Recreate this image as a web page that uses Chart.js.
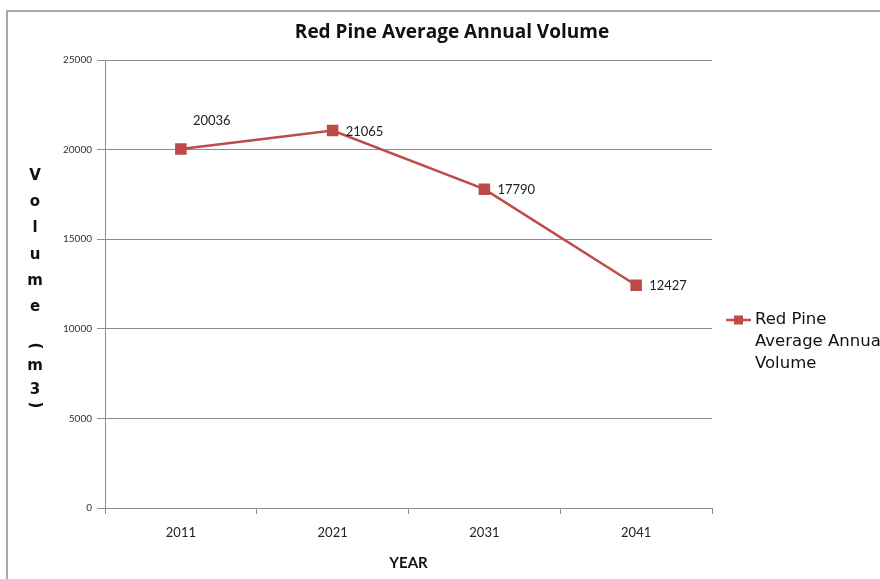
<!DOCTYPE html>
<html>
<head>
<meta charset="utf-8">
<script src="https://cdn.jsdelivr.net/npm/chart.js@4"></script>
<style>
  html, body { margin: 0; padding: 0; background: #ffffff; }
  #wrap { width: 880px; height: 579px; position: relative; }
</style>
</head>
<body>
<div id="wrap"><canvas id="chart"></canvas></div>
<script>
// Chart data
const years = ['2011', '2021', '2031', '2041'];
const volumes = [20036, 21065, 17790, 12427];
const yTicks = [0, 5000, 10000, 15000, 20000, 25000];
const seriesName = 'Red Pine Average Annual Volume';
const legendLines = ['Red Pine', 'Average Annual', 'Volume'];
const yTitleChars = ['V', 'o', 'l', 'u', 'm', 'e', '(', 'm', '3', ')'];

const lineRed = '#be4b48';
const axisGrey = '#8c8c8c';
const baseFont = 'Lato, "Open Sans", sans-serif';

// Frame, title, stacked y title, point labels and the wrapped legend
const decorPlugin = {
    id: 'decor',
    beforeDraw(chart) {
        const ctx = chart.ctx;
        ctx.save();
        ctx.strokeStyle = '#aaaaaa';
        ctx.lineWidth = 2;
        ctx.strokeRect(7, 11, 900, 600);
        ctx.restore();
    },
    afterDraw(chart) {
        const ctx = chart.ctx;
        const meta = chart.getDatasetMeta(0);
        ctx.save();

        // Chart title, centred on the frame
        ctx.fillStyle = '#111';
        ctx.font = 'bold 19px "Open Sans", sans-serif';
        ctx.textAlign = 'center';
        ctx.textBaseline = 'middle';
        ctx.fillText(seriesName, 452, 33);

        // Vertical stacked y axis title (parentheses turned sideways)
        ctx.font = 'bold 15px "DejaVu Sans", sans-serif';
        const charY = [176, 202, 228, 255, 281, 307, 346, 366, 390, 405];
        yTitleChars.forEach((ch, i) => {
            if (ch === '(' || ch === ')') {
                ctx.save();
                ctx.translate(35, charY[i]);
                ctx.rotate(Math.PI / 2);
                ctx.fillText(ch, 0, 0);
                ctx.restore();
            } else {
                ctx.fillText(ch, 35, charY[i]);
            }
        });

        // Value labels next to the points
        ctx.font = '13px ' + baseFont;
        ctx.fillStyle = '#222';
        ctx.textAlign = 'left';
        meta.data.forEach((pt, i) => {
            const txt = String(volumes[i]);
            if (i === 0) {
                ctx.fillText(txt, pt.x + 12, pt.y - 28);
            } else {
                ctx.fillText(txt, pt.x + 13, pt.y + 1);
            }
        });

        // Legend: line with square marker and wrapped label
        const lx = 726, ly = 320;
        ctx.strokeStyle = lineRed;
        ctx.lineWidth = 2.5;
        ctx.beginPath();
        ctx.moveTo(lx, ly);
        ctx.lineTo(lx + 25, ly);
        ctx.stroke();
        ctx.fillStyle = lineRed;
        ctx.fillRect(lx + 8, ly - 4.5, 9, 9);
        ctx.fillStyle = '#111';
        ctx.font = '16.5px "DejaVu Sans", sans-serif';
        legendLines.forEach((w, i) => ctx.fillText(w, lx + 29, ly + i * 22));

        ctx.restore();
    }
};

const ctx = document.getElementById('chart');

const lineChart = new Chart(ctx, {
    type: 'line',
    data: {
        labels: years,
        datasets: [{
            label: seriesName,
            data: volumes,
            borderColor: lineRed,
            backgroundColor: lineRed,
            borderWidth: 2.5,
            pointStyle: 'rect',
            pointRadius: 6.4,
            pointHoverRadius: 6.4,
            tension: 0
        }]
    },
    options: {
        responsive: true,
        maintainAspectRatio: false,
        animation: false,
        layout: {
            padding: { left: 0, top: 60, right: 168, bottom: 7 }
        },
        plugins: {
            legend: { display: false },
            tooltip: { enabled: false },
            title: { display: false }
        },
        scales: {
            x: {
                offset: true,
                afterFit: s => { s.height = 64; },
                grid: {
                    offset: true,
                    drawOnChartArea: false,
                    tickLength: 6,
                    color: axisGrey
                },
                border: { color: axisGrey, width: 1 },
                ticks: {
                    color: '#222',
                    padding: 11,
                    font: { family: baseFont, size: 13 }
                },
                title: {
                    display: true,
                    text: 'YEAR',
                    color: '#111',
                    padding: { top: 8, bottom: 0 },
                    font: { family: baseFont, size: 15, weight: 'bold' }
                }
            },
            y: {
                min: 0,
                max: 25000,
                afterFit: s => { s.width = 105; },
                afterBuildTicks: s => { s.ticks = yTicks.map(v => ({ value: v })); },
                grid: {
                    color: axisGrey,
                    tickLength: 8
                },
                border: { color: axisGrey, width: 1 },
                ticks: {
                    color: '#333',
                    padding: 5,
                    font: { family: baseFont, size: 10 },
                    callback: v => String(v)
                }
            }
        }
    },
    plugins: [decorPlugin]
});
</script>
</body>
</html>
